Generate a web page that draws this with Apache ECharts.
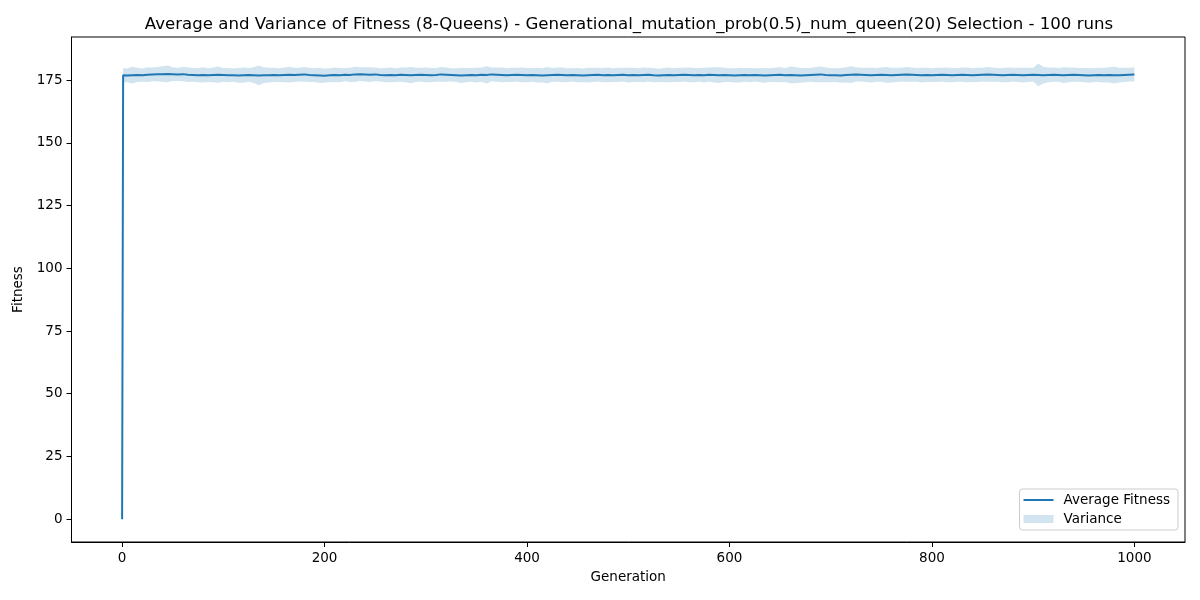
<!DOCTYPE html>
<html lang="en">
<head>
<meta charset="UTF-8">
<script src="https://cdn.jsdelivr.net/npm/echarts@6/dist/echarts.min.js"></script>
</head>
<body style="margin: 0">
<div id="container" style="width: 1200px; height: 600px"></div>
<script>
// generations sampled: 0, 1, then every 5 up to 1000
var generations = [0, 1];
for (var g = 5; g <= 1000; g += 5) generations.push(g);

// average fitness (gen 0, gen 1, then every 5)
var meanFitness = [0, 177.0,
    176.9,177.0,177.1,177.0,177.2,177.3,177.4,177.4,177.5,177.4,177.3,177.4,177.2,177.1,177.0,177.1,177.0,177.1,177.2,177.1,
    177.0,177.0,176.9,177.0,177.1,177.0,176.9,177.0,177.0,177.1,177.0,177.1,177.2,177.1,177.2,177.3,177.1,177.0,176.9,176.8,
    177.0,177.1,177.0,177.2,177.1,177.3,177.4,177.3,177.2,177.3,177.1,177.0,177.1,177.0,177.2,177.1,177.0,177.1,177.2,177.1,
    177.0,177.1,177.3,177.2,177.1,177.0,176.9,177.0,177.1,177.0,177.2,177.1,177.3,177.2,177.1,177.0,177.1,177.2,177.1,177.0,
    177.1,177.0,176.9,177.0,177.1,177.2,177.1,177.0,177.1,177.0,176.9,177.0,177.1,177.2,177.0,177.1,177.0,177.1,177.2,177.0,
    177.1,177.0,177.1,177.2,177.0,176.9,177.0,177.1,177.0,177.1,177.2,177.1,177.0,177.1,177.0,177.2,177.1,177.0,177.1,177.0,
    176.9,177.0,177.1,177.0,177.1,177.0,176.9,177.0,177.1,177.2,177.0,177.1,177.0,176.9,177.0,177.1,177.2,177.3,177.1,177.0,
    177.0,176.9,177.1,177.2,177.3,177.2,177.1,177.0,177.1,177.2,177.1,177.0,177.1,177.2,177.3,177.2,177.1,177.0,177.1,177.0,
    177.1,177.2,177.1,177.0,177.1,177.2,177.1,177.0,177.1,177.2,177.3,177.2,177.1,177.0,177.1,177.2,177.1,177.0,177.1,177.2,
    177.1,177.0,177.1,177.2,177.1,177.0,177.1,177.2,177.1,177.0,176.9,177.0,177.1,177.0,177.1,177.0,177.0,177.1,177.2,177.3];

// half width of the shaded band
var spread = [0, 2.8,
    2.7,3.3,2.8,2.6,2.9,2.7,2.8,3.1,3.3,2.7,2.6,2.8,2.9,2.7,2.8,3.0,2.7,2.9,3.2,2.7,
    2.8,2.6,2.9,3.0,2.7,3.1,3.9,3.1,2.9,2.8,2.7,2.9,3.1,2.8,2.7,2.9,2.8,2.7,3.0,2.8,
    2.7,2.9,2.8,2.6,2.8,3.0,2.7,2.8,2.9,2.7,2.6,2.8,2.9,2.7,2.8,2.9,3.2,2.8,2.7,2.9,
    2.8,2.7,2.9,2.8,2.6,2.7,3.0,2.8,2.7,2.9,2.8,3.4,2.7,2.8,2.9,2.7,2.8,2.7,2.9,2.8,
    2.7,2.9,2.8,3.2,2.7,2.8,2.9,2.7,2.6,2.8,2.7,2.9,2.8,2.7,2.8,2.9,2.7,2.8,2.7,2.9,
    2.8,2.7,2.9,2.7,2.8,2.6,2.8,2.9,2.7,2.8,2.7,2.9,2.8,2.7,2.9,2.8,3.0,3.1,2.8,2.7,
    2.8,2.9,2.7,2.8,2.6,2.8,2.9,2.7,2.8,3.0,2.7,3.3,3.2,2.9,2.8,2.7,3.0,3.1,2.9,2.8,
    2.7,2.9,3.0,3.3,2.8,2.7,2.8,2.9,2.7,2.8,3.1,2.9,2.8,2.7,2.9,2.8,2.7,2.9,2.8,2.7,
    2.8,2.7,2.9,2.8,2.7,2.8,2.9,2.7,2.8,2.7,2.9,2.8,2.7,2.8,2.9,2.7,2.8,2.9,2.8,2.7,
    4.5,3.3,2.9,2.8,2.7,3.1,2.9,2.8,2.7,2.8,2.9,2.7,2.8,2.9,3.0,3.3,2.9,2.8,2.7,2.8];

var xTicks = [0, 200, 400, 600, 800, 1000];
var yTicks = [0, 25, 50, 75, 100, 125, 150, 175];

var meanData = [];
for (var i = 0; i < generations.length; i++) {
    meanData.push([generations[i], meanFitness[i]]);
}

// band polygon: upper edge left to right, lower edge back
function renderBand(params, api) {
    var pts = [];
    for (var i = 0; i < generations.length; i++) {
        pts.push(api.coord([generations[i], meanFitness[i] + spread[i]]));
    }
    for (var j = generations.length - 1; j >= 0; j--) {
        pts.push(api.coord([generations[j], meanFitness[j] - spread[j]]));
    }
    return {
        type: 'polygon',
        shape: { points: pts },
        style: { fill: 'rgba(31,119,180,0.2)' }
    };
}

var font = 'DejaVu Sans';
var chart = echarts.init(document.getElementById('container'));
var option = {
    animation: false,
    backgroundColor: '#fff',
    textStyle: { fontFamily: font },
    title: {
        text: 'Average and Variance of Fitness (8-Queens) - Generational_mutation_prob(0.5)_num_queen(20) Selection - 100 runs',
        left: 624,
        top: 11,
        textAlign: 'center',
        textStyle: { fontFamily: font, fontSize: 16.6, fontWeight: 'normal', color: '#000' }
    },
    grid: {
        left: 71.5, right: 15, top: 37, bottom: 58,
        show: true, borderColor: '#000', borderWidth: 1
    },
    legend: {
        orient: 'vertical',
        right: 22,
        top: 489,
        padding: [4, 8, 4, 4],
        itemGap: 5,
        itemWidth: 30,
        itemHeight: 8,
        backgroundColor: 'rgba(255,255,255,0.8)',
        borderColor: '#ccc',
        borderWidth: 1,
        borderRadius: 3,
        textStyle: { fontFamily: font, fontSize: 13.5, color: '#000', padding: [0, 0, 0, 5] },
        data: [
            { name: 'Average Fitness', icon: 'path://M0,0 M0,3 L30,3 L30,5 L0,5 Z M0,8', itemStyle: { color: '#1f77b4' } },
            { name: 'Variance', icon: 'rect', itemStyle: { color: 'rgba(31,119,180,0.2)' } }
        ]
    },
    xAxis: {
        type: 'value',
        min: -50,
        max: 1050,
        name: 'Generation',
        nameLocation: 'middle',
        nameGap: 28,
        nameTextStyle: { fontFamily: font, fontSize: 13.5, color: '#000' },
        axisLine: { onZero: false, lineStyle: { color: '#000', width: 1 } },
        axisTick: { customValues: xTicks, length: 5, lineStyle: { color: '#000' } },
        axisLabel: {
            customValues: xTicks, margin: 9, fontFamily: font, fontSize: 13.5, color: '#000',
            formatter: function (v) { return String(v); }
        },
        splitLine: { show: false }
    },
    yAxis: {
        type: 'value',
        min: -9.1,
        max: 192.2,
        name: 'Fitness',
        nameLocation: 'middle',
        nameGap: 38,
        nameTextStyle: { fontFamily: font, fontSize: 13.5, color: '#000' },
        axisLine: { onZero: false, lineStyle: { color: '#000', width: 1 } },
        axisTick: { customValues: yTicks, length: 5, lineStyle: { color: '#000' } },
        axisLabel: {
            customValues: yTicks, margin: 9, fontFamily: font, fontSize: 13.5, color: '#000',
            formatter: function (v) { return String(v); }
        },
        splitLine: { show: false }
    },
    series: [
        {
            name: 'Variance',
            type: 'custom',
            renderItem: renderBand,
            data: [0],
            color: 'rgba(31,119,180,0.2)',
            silent: true,
            z: 1
        },
        {
            name: 'Average Fitness',
            type: 'line',
            data: meanData,
            symbol: 'none',
            color: '#1f77b4',
            lineStyle: { color: '#1f77b4', width: 2 },
            z: 5
        }
    ]
};
chart.setOption(option);
</script>
</body>
</html>
